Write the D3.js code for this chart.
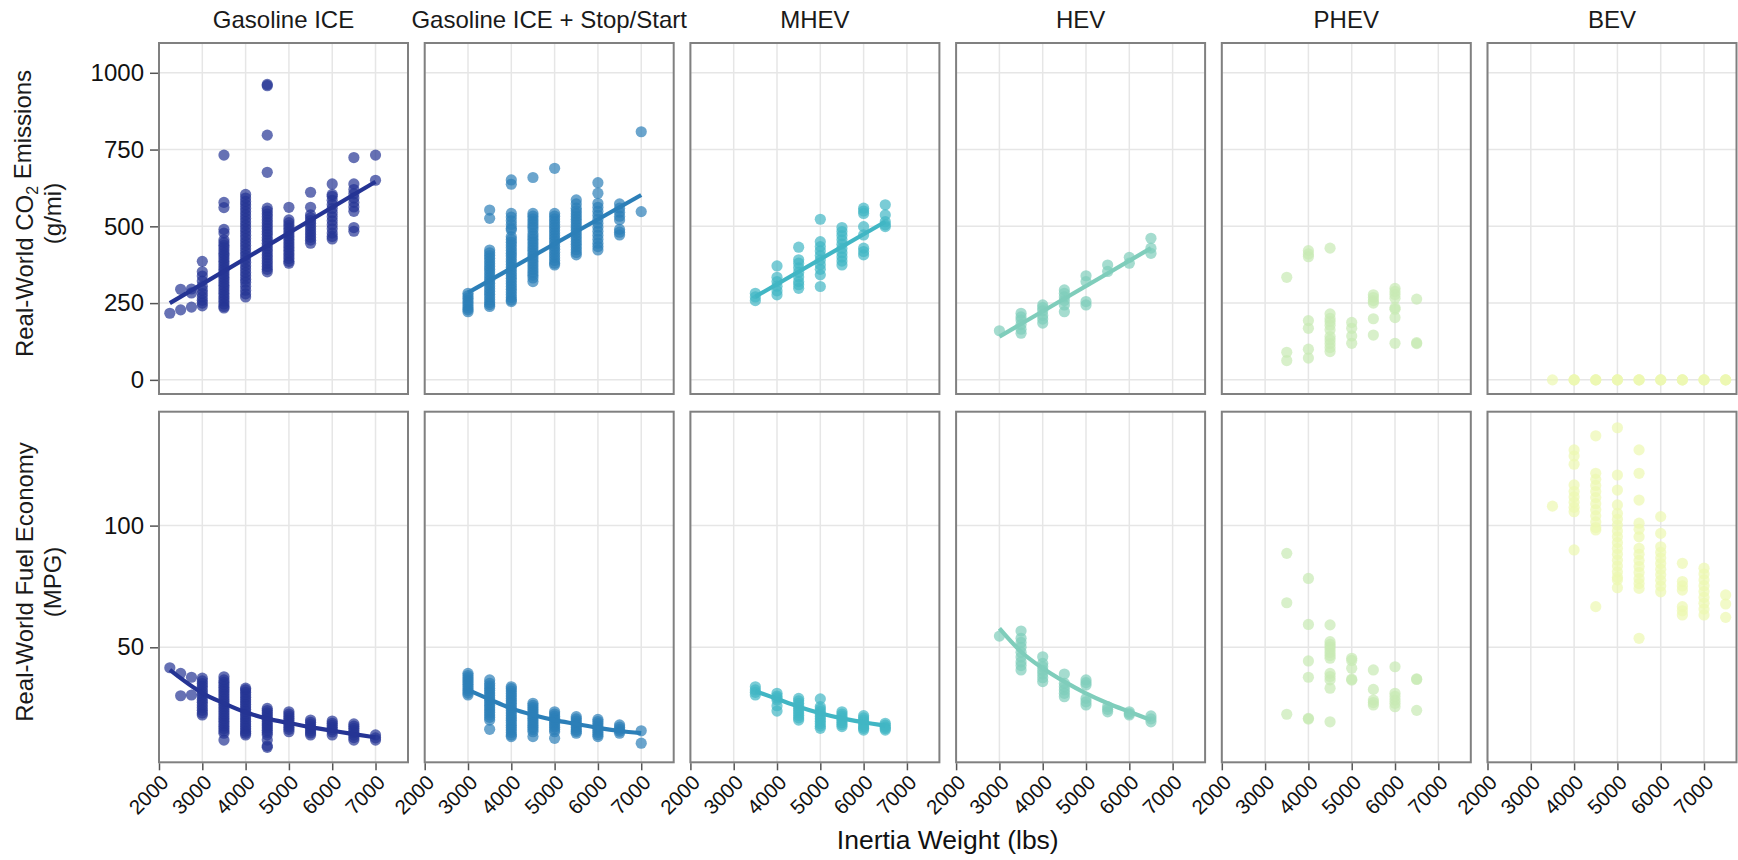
<!DOCTYPE html>
<html><head><meta charset="utf-8">
<script src="https://cdn.jsdelivr.net/npm/d3@7"></script>
<style>
body{margin:0;background:#fff}
text{font-family:"Liberation Sans", Arial, Helvetica, sans-serif}
</style>
</head><body>
<svg id="chart" width="1738" height="860"></svg>
<script>
// ---------- data ----------
const powertrains = ["Gasoline ICE", "Gasoline ICE + Stop/Start", "MHEV", "HEV", "PHEV", "BEV"];
const colors = ["#253494", "#2c7fb8", "#41b6c4", "#7fcdbb", "#c7e9b4", "#edf8b1"];
const xTicks = [2000, 3000, 4000, 5000, 6000, 7000];
const co2Ticks = [0, 250, 500, 750, 1000];
const mpgTicks = [50, 100];
const rowTitles = [["Real-World CO", "2", " Emissions", "(g/mi)"], ["Real-World Fuel Economy", "", "", "(MPG)"]];
const xTitle = "Inertia Weight (lbs)";

// CO2 (g/mi): [inertia weight, [values]]
const co2Ice = [
  [2250, [217]],
  [2500, [295, 228]],
  [2750, [296, 283, 237]],
  [3000, [386, 352, 338, 322, 305, 292, 281, 270, 259, 250, 241]],
  [3500, [732, 578, 561, 490, 478, 456, 447, 438, 430, 421, 412, 404, 395, 386, 378, 369, 360, 352, 343, 334, 326, 317, 308, 300, 291, 282, 273, 265, 256, 247, 239, 234]],
  [4000, [604, 592, 581, 570, 559, 548, 537, 526, 515, 504, 493, 482, 471, 460, 449, 438, 427, 416, 405, 394, 383, 372, 361, 350, 339, 328, 318, 305, 292, 280, 270]],
  [4500, [962, 958, 797, 676, 559, 550, 540, 531, 521, 512, 502, 493, 483, 474, 464, 455, 445, 436, 426, 417, 407, 398, 388, 379, 369, 360, 352]],
  [5000, [562, 521, 512, 503, 494, 485, 476, 467, 458, 449, 440, 431, 422, 413, 404, 395, 386, 380]],
  [5500, [611, 562, 537, 528, 519, 510, 500, 491, 482, 473, 464, 455, 445]],
  [6000, [638, 604, 598, 585, 571, 558, 544, 531, 518, 505, 492, 478, 467, 459]],
  [6500, [724, 638, 620, 606, 592, 578, 563, 549, 496, 484]],
  [7000, [732, 650]]
];
const co2StopStart = [
  [3000, [282, 274, 266, 258, 250, 242, 234, 228, 222]],
  [3500, [553, 526, 423, 414, 405, 396, 387, 378, 369, 360, 351, 342, 333, 324, 315, 306, 297, 288, 279, 270, 261, 252, 245, 239]],
  [4000, [651, 637, 542, 530, 518, 506, 494, 488, 466, 457, 448, 439, 430, 421, 412, 403, 394, 385, 376, 367, 358, 349, 340, 331, 322, 313, 304, 295, 286, 277, 268, 260, 255]],
  [4500, [659, 542, 533, 524, 515, 506, 497, 488, 476, 467, 458, 449, 440, 431, 422, 413, 404, 395, 386, 377, 368, 359, 350, 341, 332, 320]],
  [5000, [689, 542, 533, 524, 515, 506, 497, 488, 479, 470, 461, 452, 443, 434, 425, 416, 407, 398, 389, 380, 374]],
  [5500, [586, 573, 559, 550, 541, 532, 523, 514, 505, 496, 487, 478, 469, 460, 451, 442, 433, 424, 415, 407]],
  [6000, [642, 608, 575, 562, 549, 536, 523, 510, 497, 484, 471, 458, 445, 434, 423]],
  [6500, [573, 559, 546, 533, 521, 490, 481, 472]],
  [7000, [808, 548]]
];
const co2Mhev = [
  [3500, [282, 270, 258]],
  [4000, [371, 334, 320, 305, 290, 277]],
  [4500, [432, 391, 380, 365, 350, 335, 320, 310, 298]],
  [5000, [523, 450, 434, 420, 405, 390, 375, 360, 342, 304]],
  [5500, [496, 483, 470, 456, 442, 428, 414, 400, 387, 374]],
  [6000, [559, 550, 542, 499, 472, 429, 418, 407]],
  [6500, [570, 537, 515, 505, 499]]
];
const co2Hev = [
  [3000, [160]],
  [3500, [217, 205, 195, 180, 165, 152]],
  [4000, [244, 235, 225, 210, 198, 185]],
  [4500, [293, 282, 270, 258, 244, 222]],
  [5000, [339, 320, 255, 244]],
  [5500, [374, 353]],
  [6000, [399, 380]],
  [6500, [461, 429, 412]]
];
const co2Phev = [
  [3500, [334, 90, 63]],
  [4000, [421, 410, 401, 193, 168, 100, 71]],
  [4500, [429, 215, 200, 190, 178, 163, 141, 130, 118, 105, 92]],
  [5000, [187, 168, 143, 119]],
  [5500, [277, 268, 258, 250, 199, 146]],
  [6000, [298, 288, 278, 266, 235, 230, 203, 119]],
  [6500, [263, 121, 118]]
];
const co2Bev = [
  [3500, [0]], [4000, [0, 0, 0]], [4500, [0, 0, 0]], [5000, [0, 0, 0]], [5500, [0, 0, 0]],
  [6000, [0, 0, 0]], [6500, [0, 0, 0]], [7000, [0, 0, 0]], [7500, [0, 0, 0]]
];

// Fuel economy (MPG)
const mpgIce = [
  [2250, [41.6]],
  [2500, [39.3, 30.1]],
  [2750, [37.7, 30.4]],
  [3000, [37.3, 36.2, 35.1, 34.0, 32.9, 31.8, 30.7, 29.6, 28.5, 27.4, 26.3, 25.2, 24.1, 23.0, 22.2]],
  [3500, [37.9, 36.6, 35.6, 34.6, 33.6, 32.6, 31.6, 30.6, 29.6, 28.6, 27.6, 26.6, 25.6, 24.6, 23.6, 22.6, 21.6, 20.6, 19.6, 18.6, 17.6, 16.6, 15.6, 14.7, 11.9]],
  [4000, [33.2, 32.5, 31.5, 30.5, 29.5, 28.5, 27.5, 26.5, 25.5, 24.5, 23.5, 22.5, 21.5, 20.5, 19.5, 18.5, 17.5, 16.5, 15.5, 14.7, 14.0]],
  [4500, [24.9, 24.0, 23.1, 22.2, 21.3, 20.4, 19.5, 18.6, 17.7, 16.8, 15.9, 15.0, 14.1, 11.9, 9.5, 8.9]],
  [5000, [23.5, 22.6, 21.7, 20.8, 19.9, 19.0, 18.1, 17.2, 16.3, 15.3]],
  [5500, [20.1, 19.2, 18.3, 17.4, 16.5, 15.6, 14.8, 14.0]],
  [6000, [19.7, 18.8, 17.9, 17.0, 16.1, 15.2, 14.0]],
  [6500, [18.5, 17.6, 16.7, 15.8, 14.9, 13.9, 12.9, 11.9]],
  [7000, [14.0, 12.8, 11.9]]
];
const mpgStopStart = [
  [3000, [39.3, 38.4, 37.5, 36.6, 35.7, 34.8, 33.9, 33.0, 32.1, 31.2, 30.4]],
  [3500, [36.6, 35.2, 34.2, 33.2, 32.2, 31.2, 30.2, 29.2, 28.2, 27.2, 26.2, 25.2, 24.2, 23.2, 22.2, 21.2, 20.1, 16.3]],
  [4000, [33.8, 33.0, 32.0, 31.0, 30.0, 29.0, 28.0, 27.0, 26.0, 25.0, 24.0, 23.0, 22.0, 21.0, 20.0, 19.0, 18.0, 17.0, 16.0, 15.0, 14.0, 13.3]],
  [4500, [27.0, 26.1, 25.2, 24.3, 23.4, 22.5, 21.6, 20.7, 19.8, 18.9, 18.0, 17.1, 16.2, 15.3, 13.3]],
  [5000, [23.5, 22.6, 21.7, 20.8, 19.9, 19.0, 18.1, 17.2, 16.2, 15.3, 12.6]],
  [5500, [21.5, 20.6, 19.7, 18.8, 17.9, 17.0, 16.1, 15.4, 14.7]],
  [6000, [20.4, 19.5, 18.6, 17.7, 16.8, 15.9, 15.0, 14.1, 13.3]],
  [6500, [18.1, 17.2, 16.3, 15.5, 14.7]],
  [7000, [15.7, 10.6]]
];
const mpgMhev = [
  [3500, [33.8, 32.5, 31.5, 30.4]],
  [4000, [31.1, 30.0, 29.2, 28.3, 26.0, 23.8]],
  [4500, [29.0, 28.0, 27.0, 26.0, 25.0, 24.0, 23.0, 22.0, 21.0, 20.1]],
  [5000, [28.8, 25.6, 24.6, 23.6, 22.6, 21.6, 20.6, 19.6, 18.6, 17.6, 16.7]],
  [5500, [23.5, 22.6, 21.7, 20.8, 19.9, 19.0, 18.2, 17.4]],
  [6000, [21.9, 21.0, 20.1, 19.2, 18.3, 17.4, 16.7, 16.0]],
  [6500, [18.8, 18.0, 17.2, 16.6, 16.0]]
];
const mpgHev = [
  [3000, [54.6]],
  [3500, [56.7, 53.7, 52.0, 50.0, 48.0, 46.0, 44.0, 42.5, 40.7]],
  [4000, [46.1, 43.4, 42.0, 40.5, 39.0, 37.5, 35.9]],
  [4500, [39.0, 35.2, 33.8, 32.5, 31.1, 29.7]],
  [5000, [36.6, 35.5, 34.5, 29.0, 27.6, 26.3]],
  [5500, [25.6, 24.5, 23.5]],
  [6000, [23.5, 22.8, 22.2]],
  [6500, [21.8, 20.6, 19.4]]
];
const mpgPhev = [
  [3500, [88.6, 68.3, 22.5]],
  [4000, [78.3, 59.4, 44.4, 37.7, 20.8, 20.5]],
  [4500, [59.2, 52.3, 51.2, 50.1, 49.0, 47.8, 46.6, 45.5, 39.3, 38.0, 36.6, 33.2, 19.4]],
  [5000, [45.5, 44.6, 41.4, 36.9, 36.5]],
  [5500, [40.7, 32.7, 28.3, 27.3, 26.3]],
  [6000, [42.0, 31.1, 29.8, 28.3, 27.0, 25.6]],
  [6500, [37.0, 36.8, 24.1]]
];
const mpgBev = [
  [3500, [108.0]],
  [4000, [131.1, 128.6, 125.2, 116.7, 114.0, 111.8, 109.6, 107.5, 105.7, 90.0]],
  [4500, [136.9, 121.5, 119.0, 116.5, 114.0, 111.5, 109.0, 106.5, 104.0, 101.5, 99.2, 98.2, 66.7]],
  [5000, [140.2, 120.8, 114.6, 108.5, 105.0, 102.6, 100.2, 97.8, 95.4, 93.0, 90.6, 88.2, 85.8, 83.4, 81.0, 78.8, 77.7, 74.5]],
  [5500, [131.1, 121.5, 110.5, 101.0, 98.5, 95.4, 90.7, 88.2, 85.7, 83.2, 80.7, 78.2, 76.2, 74.2, 53.7]],
  [6000, [103.7, 96.8, 91.3, 89.0, 86.7, 84.4, 82.1, 79.8, 77.5, 75.2, 72.8]],
  [6500, [84.5, 77.0, 75.2, 73.5, 66.7, 65.0, 63.3]],
  [7000, [82.5, 80.1, 77.7, 75.3, 72.9, 70.5, 68.1, 65.7, 63.3]],
  [7500, [71.5, 67.8, 62.3]]
];

// fitted trend lines: [weight, value]
const co2FitIce = [[2250, 250], [7000, 645]];
const co2FitStopStart = [[3000, 284], [7000, 602]];
const co2FitMhev = [[3500, 271], [6500, 515]];
const co2FitHev = [[3000, 141], [6500, 429]];
const mpgFitIce = [[2250, 40.7], [3000, 31.2], [3500, 27.0], [4000, 23.3], [4500, 20.7], [5000, 18.9], [5500, 17.2], [6000, 15.7], [6500, 14.3], [7000, 13.0]];
const mpgFitStopStart = [[3000, 32.5], [3500, 28.6], [4000, 24.9], [4500, 22.2], [5000, 20.1], [5500, 18.5], [6000, 16.9], [6500, 15.6], [7000, 14.7]];
const mpgFitMhev = [[3500, 32.0], [4000, 28.8], [4500, 25.6], [5000, 22.9], [5500, 20.8], [6000, 19.2], [6500, 17.8]];
const mpgFitHev = [[3000, 57.8], [3500, 48.2], [4000, 41.4], [4500, 35.9], [5000, 31.1], [5500, 27.0], [6000, 23.5], [6500, 20.1]];

// ---------- layout ----------
const svg = d3.select("#chart");
const panelW = 249, panelStep = 265.7, left0 = 159;
const rows = [
  {top: 43, h: 351, domain: [-46, 1097], ticks: co2Ticks,
   data: [co2Ice, co2StopStart, co2Mhev, co2Hev, co2Phev, co2Bev],
   fits: [co2FitIce, co2FitStopStart, co2FitMhev, co2FitHev, null, null], curve: d3.curveLinear},
  {top: 411.7, h: 350.6, domain: [2.75, 146.8], ticks: mpgTicks,
   data: [mpgIce, mpgStopStart, mpgMhev, mpgHev, mpgPhev, mpgBev],
   fits: [mpgFitIce, mpgFitStopStart, mpgFitMhev, mpgFitHev, null, null], curve: d3.curveMonotoneX}
];
const x = d3.scaleLinear().domain([2000, 7750]).range([0, panelW]);

// strip titles
powertrains.forEach((p, i) => {
  svg.append("text")
    .attr("x", left0 + i * panelStep + panelW / 2).attr("y", 28)
    .attr("text-anchor", "middle").attr("font-size", 24).attr("fill", "#1a1a1a")
    .text(p);
});

rows.forEach((row, r) => {
  const y = d3.scaleLinear().domain(row.domain).range([row.h, 0]);
  powertrains.forEach((p, i) => {
    const g = svg.append("g").attr("transform", `translate(${left0 + i * panelStep},${row.top})`);
    // grid
    g.selectAll("line.gx").data(xTicks).join("line").attr("class", "gx")
      .attr("x1", d => x(d)).attr("x2", d => x(d)).attr("y1", 0).attr("y2", row.h)
      .attr("stroke", "#e6e6e6").attr("stroke-width", 1.5);
    g.selectAll("line.gy").data(row.ticks).join("line").attr("class", "gy")
      .attr("x1", 0).attr("x2", panelW).attr("y1", d => y(d)).attr("y2", d => y(d))
      .attr("stroke", "#e6e6e6").attr("stroke-width", 1.5);
    // points
    const pts = row.data[i].flatMap(([w, vals]) => vals.map(v => [w, v]));
    g.selectAll("circle").data(pts).join("circle")
      .attr("cx", d => x(d[0])).attr("cy", d => y(d[1])).attr("r", 5.6)
      .attr("fill", colors[i]).attr("fill-opacity", 0.7);
    // fit line
    if (row.fits[i]) {
      g.append("path").datum(row.fits[i])
        .attr("d", d3.line().x(d => x(d[0])).y(d => y(d[1])).curve(row.curve))
        .attr("fill", "none").attr("stroke", colors[i]).attr("stroke-width", 4.2)
        .attr("stroke-linecap", "butt");
    }
    // border
    g.append("rect").attr("x", 0).attr("y", 0).attr("width", panelW).attr("height", row.h)
      .attr("fill", "none").attr("stroke", "#808080").attr("stroke-width", 2);
    // y axis
    if (i === 0) {
      const ax = g.append("g").attr("transform", "translate(-1,0)")
        .call(d3.axisLeft(y).tickValues(row.ticks).tickSize(8).tickPadding(6).tickFormat(d3.format("d")));
      ax.select(".domain").remove();
      ax.selectAll(".tick line").attr("stroke", "#555").attr("stroke-width", 1.5);
      ax.selectAll(".tick text").attr("font-size", 24).attr("fill", "#111")
        .attr("font-family", '"Liberation Sans", Arial, sans-serif');
    }
    // x axis
    if (r === 1) {
      const ax = g.append("g").attr("transform", `translate(0,${row.h + 1})`)
        .call(d3.axisBottom(x).tickValues(xTicks).tickSize(7).tickFormat(d3.format("d")));
      ax.select(".domain").remove();
      ax.selectAll(".tick line").attr("stroke", "#555").attr("stroke-width", 1.5);
      ax.selectAll(".tick text").attr("font-size", 20.5).attr("fill", "#111")
        .attr("font-family", '"Liberation Sans", Arial, sans-serif')
        .attr("text-anchor", "end").attr("x", 0).attr("y", 0).attr("dy", "0.71em")
        .attr("transform", "translate(0,10) rotate(-45)");
    }
  });
  // row title
  const cy = row.top + row.h / 2 - 5;
  const t = svg.append("text").attr("transform", `translate(33,${cy}) rotate(-90)`)
    .attr("text-anchor", "middle").attr("font-size", 24).attr("fill", "#1a1a1a");
  t.append("tspan").text(rowTitles[r][0]);
  if (rowTitles[r][1]) {
    t.append("tspan").attr("dy", "0.3em").attr("font-size", 16).text(rowTitles[r][1]);
    t.append("tspan").attr("dy", "-0.3em").text(rowTitles[r][2]);
  }
  svg.append("text").attr("transform", `translate(61,${cy}) rotate(-90)`)
    .attr("text-anchor", "middle").attr("font-size", 24).attr("fill", "#1a1a1a")
    .text(rowTitles[r][3]);
});

svg.append("text").attr("x", left0 + (5 * panelStep + panelW) / 2).attr("y", 849)
  .attr("text-anchor", "middle").attr("font-size", 26.5).attr("fill", "#111").text(xTitle);
</script>
</body></html>
